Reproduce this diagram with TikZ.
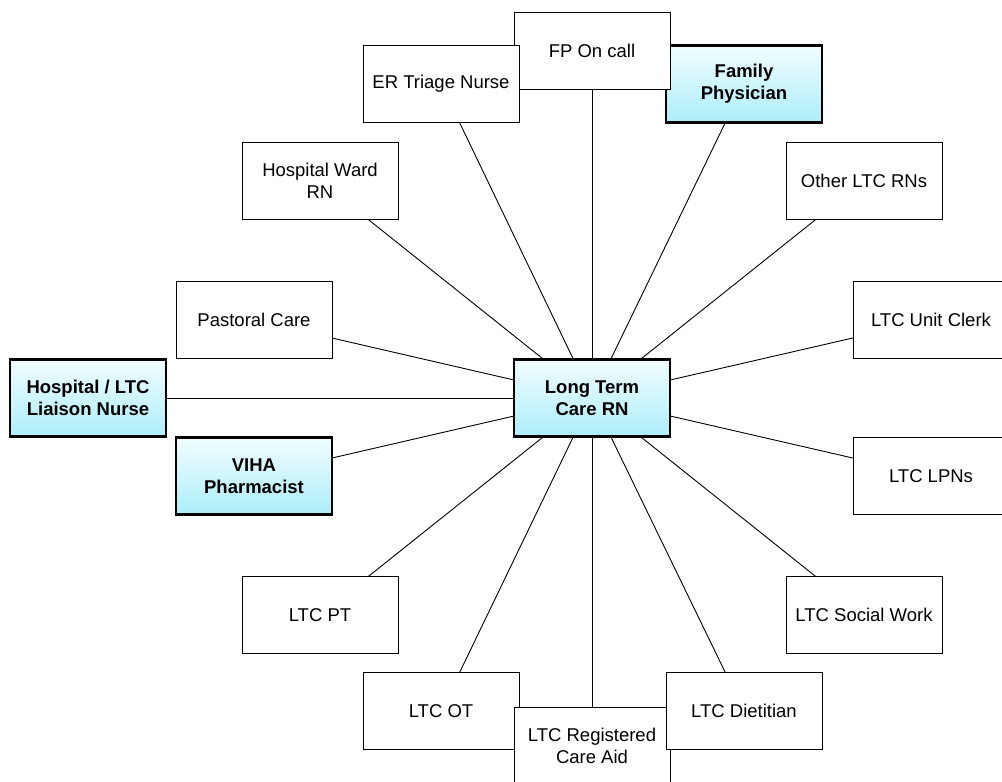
\documentclass[tikz,border=0pt]{standalone}
\usepackage{fontspec}
\setmainfont{Liberation Sans}
\usetikzlibrary{backgrounds}
\definecolor{KeyTop}{RGB}{242,253,255}
\definecolor{KeyBottom}{RGB}{172,238,250}

\begin{document}
\begin{tikzpicture}[x=1pt, y=-1pt,
    role/.style={draw, fill=white, line width=0.9pt, minimum width=156pt, minimum height=77pt,
      inner sep=2pt, align=center, font=\fontsize{18.5}{22}\selectfont},
    keyrole/.style={role, line width=2.8pt, top color=KeyTop, bottom color=KeyBottom,
      font=\fontsize{18.5}{22}\selectfont\bfseries}]
    \useasboundingbox (0,0) rectangle (1002,782);

    % Top of the ring
    \node[keyrole] (famphys) at (744,84) {Family\\Physician};
    \node[role] (fpcall) at (592,50.5) {FP On call};
    \node[role] (ertriage) at (441,84) {ER Triage Nurse};
    \node[role] (wardrn) at (320,181) {Hospital Ward\\RN};
    \node[role] (otherrn) at (864,181) {Other LTC RNs};

    % Middle rows
    \node[role] (pastoral) at (254,320) {Pastoral Care};
    \node[role] (clerk) at (931,320) {LTC Unit Clerk};
    \node[keyrole] (liaison) at (88,398) {Hospital / LTC\\Liaison Nurse};
    \node[keyrole] (ltcrn) at (592,398) {Long Term\\Care RN};
    \node[keyrole] (pharm) at (254,476) {VIHA\\Pharmacist};
    \node[role] (lpn) at (931,476) {LTC LPNs};

    % Bottom of the ring
    \node[role] (pt) at (320,615) {LTC PT};
    \node[role] (social) at (864,615) {LTC Social Work};
    \node[role] (ot) at (441,711) {LTC OT};
    \node[role] (careaid) at (592,746) {LTC Registered\\Care Aid};
    \node[role] (dietitian) at (744,711) {LTC Dietitian};

    % Spokes
    \begin{scope}[on background layer]
      \foreach \n in {famphys, fpcall, ertriage, wardrn, otherrn, pastoral, clerk, liaison,
                      pharm, lpn, pt, social, ot, careaid, dietitian}
        \draw[line width=0.9pt] (ltcrn.center) -- (\n.center);
    \end{scope}
\end{tikzpicture}
\end{document}
